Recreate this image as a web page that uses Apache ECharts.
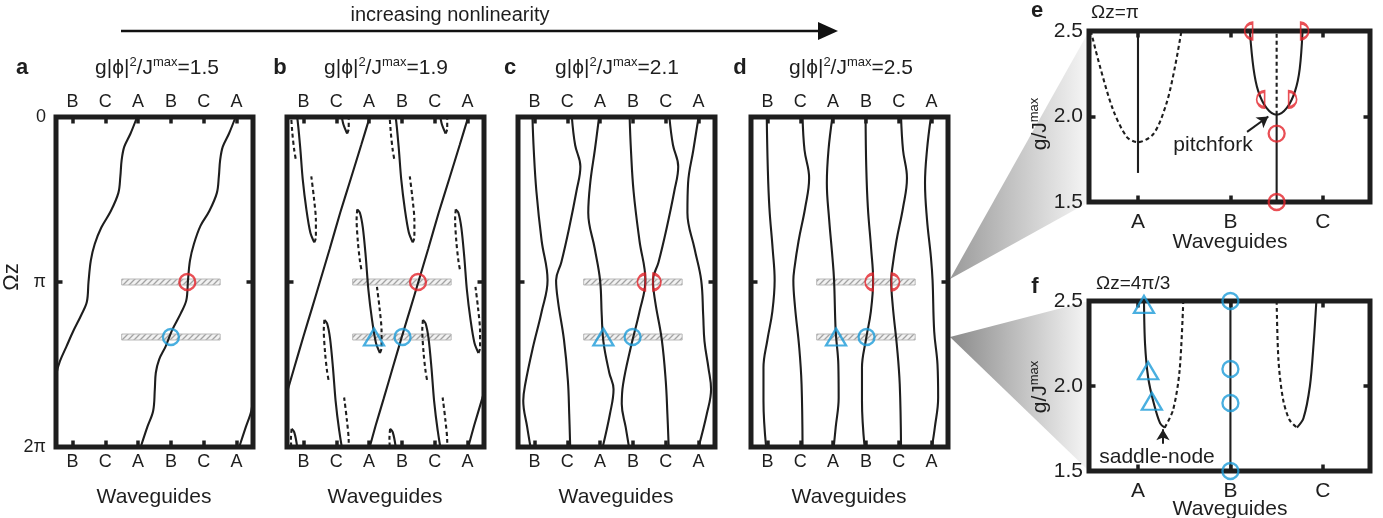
<!DOCTYPE html>
<html>
<head>
<meta charset="utf-8">
<script src="https://cdn.jsdelivr.net/npm/echarts@6.0.0/dist/echarts.min.js"></script>
<style>html,body{margin:0;padding:0;background:#fff;}#chart{width:1383px;height:518px;}</style>
</head>
<body>
<div id="chart"></div>
<script>
// ---------------- data (x = waveguide index, y = Ωz in units of π) ----------------
const wgLabels = ['B', 'C', 'A', 'B', 'C', 'A'];
const wgTicks = [0, 1, 2, 3, 4, 5];
const zTickLabels = ['0', 'π', '2π'];
const zTicks = [0, 1, 2];
const efLabels = ['A', 'B', 'C'];
const efTicks = [0, 1, 2];
const gTicks = [1.5, 2.0, 2.5];
const titleValues = ['1.5', '1.9', '2.1', '2.5'];
const panelLetters = ['a', 'b', 'c', 'd', 'e', 'f'];
const bandRows = [1, 4 / 3];
const bandFrom = 1.5, bandTo = 4.5;

// panel a
const aCurve1 = [[1.97,0],[1.77,0.10],[1.58,0.18],[1.50,0.26],[1.46,0.36],[1.40,0.46],[1.17,0.57],[0.88,0.67],[0.68,0.77],[0.56,0.87],[0.49,1.00],[0.44,1.12],[0.27,1.20],[0.02,1.30],[-0.18,1.39],[-0.38,1.48],[-0.48,1.55],[-0.52,1.65]];
const aCurve2 = [[4.97,0],[4.77,0.10],[4.58,0.18],[4.50,0.26],[4.46,0.36],[4.40,0.46],[4.17,0.57],[3.90,0.66],[3.70,0.77],[3.58,0.87],[3.52,0.99],[3.47,1.11],[3.30,1.19],[3.04,1.29],[2.84,1.39],[2.64,1.47],[2.54,1.55],[2.51,1.65],[2.46,1.78],[2.28,1.88],[2.08,2.0]];
const aCurve3 = [[5.56,1.50],[5.52,1.60],[5.49,1.70],[5.45,1.78],[5.28,1.88],[5.08,2.0]];
const aRed = [[3.5, 1.0]];
const aBlueCircle = [[3.0, 4 / 3]];

// panel b
const bMain = [[5.02,0],[4.76,0.17],[4.45,0.37],[4.12,0.58],[3.80,0.80],[3.50,1.00],[3.26,1.16],[3.00,1.33],[2.72,1.52],[2.44,1.71],[2.20,1.87],[2.02,2.0]];
const bLeft = [[2.02,0],[1.76,0.17],[1.45,0.37],[1.12,0.58],[0.80,0.80],[0.50,1.00],[0.26,1.16],[0.00,1.33],[-0.28,1.52],[-0.56,1.71]];
const bRight = [[5.72,1.52],[5.44,1.71],[5.20,1.87],[5.02,2.0]];
const bHookSolid = [
  [[0.98,-0.28],[1.09,-0.10],[1.21,0.04],[1.33,0.10]],
  [[3.98,-0.28],[4.09,-0.10],[4.21,0.04],[4.33,0.10]],
  [[-0.36,-0.11],[-0.28,-0.09],[-0.19,0.00],[-0.10,0.18],[-0.02,0.38],[0.09,0.56],[0.21,0.70],[0.33,0.76]],
  [[2.64,-0.11],[2.72,-0.09],[2.81,0.00],[2.90,0.18],[2.98,0.38],[3.09,0.56],[3.21,0.70],[3.33,0.76]],
  [[1.64,0.56],[1.72,0.58],[1.81,0.67],[1.90,0.85],[1.98,1.05],[2.09,1.23],[2.21,1.37],[2.33,1.43]],
  [[4.64,0.56],[4.72,0.58],[4.81,0.67],[4.90,0.85],[4.98,1.05],[5.09,1.23],[5.21,1.37],[5.33,1.43]],
  [[0.64,1.23],[0.72,1.25],[0.81,1.34],[0.90,1.52],[0.98,1.72],[1.09,1.90],[1.21,2.04],[1.33,2.10]],
  [[3.64,1.23],[3.72,1.25],[3.81,1.34],[3.90,1.52],[3.98,1.72],[4.09,1.90],[4.21,2.04],[4.33,2.10]],
  [[-0.36,1.89],[-0.28,1.91],[-0.19,2.00],[-0.10,2.18]],
  [[2.64,1.89],[2.72,1.91],[2.81,2.00],[2.90,2.18]]
];
const bHookDashed = [
  [[1.33,0.10],[1.38,0.07],[1.38,-0.03]],
  [[4.33,0.10],[4.38,0.07],[4.38,-0.03]],
  [[-0.36,-0.11],[-0.38,-0.05],[-0.34,0.09],[-0.28,0.20],[-0.22,0.27]],
  [[0.33,0.76],[0.38,0.73],[0.38,0.63],[0.32,0.49],[0.24,0.36]],
  [[2.64,-0.11],[2.62,-0.05],[2.66,0.09],[2.72,0.20],[2.78,0.27]],
  [[3.33,0.76],[3.38,0.73],[3.38,0.63],[3.32,0.49],[3.24,0.36]],
  [[1.64,0.56],[1.62,0.62],[1.66,0.76],[1.72,0.87],[1.78,0.94]],
  [[2.33,1.43],[2.38,1.40],[2.38,1.30],[2.32,1.16],[2.24,1.03]],
  [[4.64,0.56],[4.62,0.62],[4.66,0.76],[4.72,0.87],[4.78,0.94]],
  [[5.33,1.43],[5.38,1.40],[5.38,1.30],[5.32,1.16],[5.24,1.03]],
  [[0.64,1.23],[0.62,1.29],[0.66,1.43],[0.72,1.54],[0.78,1.61]],
  [[1.33,2.10],[1.38,2.07],[1.38,1.97],[1.32,1.83],[1.24,1.70]],
  [[3.64,1.23],[3.62,1.29],[3.66,1.43],[3.72,1.54],[3.78,1.61]],
  [[4.33,2.10],[4.38,2.07],[4.38,1.97],[4.32,1.83],[4.24,1.70]],
  [[-0.36,1.89],[-0.38,1.95],[-0.34,2.09]],
  [[2.64,1.89],[2.62,1.95],[2.66,2.09]]
];
const bRed = [[3.49, 1.0]];
const bBlueTriangle = [[2.15, 4 / 3]];
const bBlueCircle = [[3.02, 4 / 3]];

// panel c
const cCurves = [
  [[-0.06,0],[-0.02,0.20],[0.06,0.45],[0.22,0.75],[0.40,0.99],[0.22,1.18],[-0.05,1.40],[-0.28,1.62],[-0.34,1.72],[-0.22,1.88],[-0.12,2.0]],
  [[1.14,0],[1.24,0.17],[1.40,0.30],[1.28,0.45],[1.05,0.68],[0.82,0.88],[0.66,0.99],[0.72,1.12],[0.90,1.35],[1.02,1.60],[1.06,1.80],[1.09,2.0]],
  [[1.97,0],[1.84,0.20],[1.70,0.40],[1.64,0.58],[1.84,0.80],[2.00,0.99],[2.05,1.20],[2.10,1.36],[2.28,1.55],[2.41,1.65],[2.30,1.80],[2.08,2.0]],
  [[2.90,0],[2.94,0.20],[3.02,0.45],[3.20,0.75],[3.38,0.99],[3.20,1.18],[2.93,1.40],[2.70,1.62],[2.66,1.74],[2.78,1.88],[2.88,2.0]],
  [[4.11,0],[4.22,0.17],[4.38,0.30],[4.26,0.45],[4.02,0.68],[3.78,0.88],[3.61,0.99],[3.68,1.12],[3.88,1.35],[4.00,1.60],[4.05,1.80],[4.09,2.0]],
  [[5.00,0],[4.84,0.20],[4.68,0.40],[4.66,0.58],[4.88,0.80],[5.08,0.99],[5.14,1.20],[5.18,1.36],[5.30,1.52],[5.38,1.65],[5.25,1.80],[5.00,2.0]]
];
const cRedLeft = [[3.38, 1.0]];
const cRedRight = [[3.61, 1.0]];
const cBlueTriangle = [[2.10, 4 / 3]];
const cBlueCircle = [[2.99, 4 / 3]];

// panel d
const dCurves = [
  [[-0.02,0],[0.01,0.30],[0.06,0.55],[0.16,0.80],[0.22,0.99],[0.15,1.18],[0.00,1.35],[-0.12,1.52],[-0.12,1.72],[-0.04,2.0]],
  [[1.07,0],[1.13,0.20],[1.27,0.37],[1.15,0.55],[0.95,0.75],[0.82,0.92],[0.79,0.99],[0.84,1.15],[0.97,1.40],[1.04,1.62],[1.07,2.0]],
  [[1.98,0],[1.86,0.20],[1.81,0.40],[1.88,0.62],[1.98,0.85],[2.03,0.99],[2.08,1.30],[2.16,1.50],[2.17,1.70],[2.08,1.88],[2.02,2.0]],
  [[2.99,0],[3.01,0.30],[3.06,0.55],[3.16,0.80],[3.22,0.99],[3.15,1.18],[3.00,1.35],[2.88,1.52],[2.88,1.72],[2.96,2.0]],
  [[4.07,0],[4.13,0.20],[4.25,0.37],[4.13,0.55],[3.93,0.75],[3.80,0.92],[3.77,0.99],[3.82,1.15],[3.95,1.40],[4.03,1.62],[4.07,2.0]],
  [[4.98,0],[4.86,0.20],[4.80,0.40],[4.86,0.62],[4.98,0.85],[5.03,0.99],[5.08,1.30],[5.18,1.50],[5.20,1.70],[5.10,1.88],[5.01,2.0]]
];
const dRedLeft = [[3.22, 1.0]];
const dRedRight = [[3.78, 1.0]];
const dBlueTriangle = [[2.09, 4 / 3]];
const dBlueCircle = [[3.02, 4 / 3]];

// panel e (x: A=0, B=1, C=2 ; y: g/Jmax)
const eADashed = [[-0.51,2.5],[-0.41,2.29],[-0.27,2.04],[-0.12,1.88],[0,1.85],[0.17,1.90],[0.31,2.08],[0.40,2.29],[0.47,2.5]];
const eASolid = [[0,2.5],[0,1.67]];
const eStem = [[1.5,1.5],[1.5,2.01]];
const eFork = [[1.21,2.5],[1.25,2.28],[1.30,2.15],[1.39,2.05],[1.5,2.01],[1.61,2.05],[1.70,2.15],[1.75,2.28],[1.78,2.5]];
const eForkDashed = [[1.5,2.01],[1.5,2.5]];
const eRedCircles = [[1.5,1.5],[1.5,1.9]];
const eRedLeft = [[1.37,2.1],[1.24,2.5]];
const eRedRight = [[1.63,2.1],[1.76,2.5]];
const pitchforkArrow = [[1.18,1.91],[1.41,2.0]];

// panel f
const fASolid = [[0.065,2.5],[0.076,2.25],[0.11,2.05],[0.17,1.90],[0.24,1.78],[0.29,1.755]];
const fADashed = [[0.29,1.755],[0.38,1.86],[0.45,2.09],[0.49,2.5]];
const fBSolid = [[1,1.5],[1,2.5]];
const fCDashed = [[1.50,2.5],[1.52,2.15],[1.57,1.92],[1.64,1.80],[1.72,1.755]];
const fCSolid = [[1.72,1.755],[1.79,1.81],[1.86,2.0],[1.90,2.25],[1.93,2.5]];
const fTriangles = [[0.065,2.48],[0.11,2.09],[0.15,1.91]];
const fCircles = [[1,2.5],[1,2.1],[1,1.9],[1,1.5]];
const saddleArrow = [[0.27,1.66],[0.27,1.745]];

// ---------------- styling / layout ----------------
const FONT = '"Liberation Sans", Arial, Helvetica, sans-serif';
const INK = '#1e1e1e';
const RED = '#e3232a';
const BLUE = '#1b9bd8';
const LEFT_HALF = 'path://M10,0 A10,10 0 0 0 10,20 Z';
const RIGHT_HALF = 'path://M0,0 A10,10 0 0 1 0,20 Z';

const hatchCanvas = document.createElement('canvas');
hatchCanvas.width = 6; hatchCanvas.height = 6;
(function () {
  const c = hatchCanvas.getContext('2d');
  c.fillStyle = '#f1f1f1'; c.fillRect(0, 0, 6, 6);
  c.strokeStyle = '#a3a3a3'; c.lineWidth = 1.3;
  c.beginPath();
  c.moveTo(-1, 7); c.lineTo(7, -1);
  c.moveTo(-4, 4); c.lineTo(4, -4);
  c.moveTo(2, 10); c.lineTo(10, 2);
  c.stroke();
})();
const hatch = { image: hatchCanvas, repeat: 'repeat' };

const grids = [], xAxes = [], yAxes = [], series = [];
const tickStyle = { show: true, inside: true, length: 6.5, lineStyle: { color: INK, width: 3.5 } };

function addGrid(box) {
  grids.push(Object.assign({ show: true, borderColor: INK, borderWidth: 5, backgroundColor: 'rgba(0,0,0,0)' }, box));
  return grids.length - 1;
}
function addAxes(g, xr, yr, xT, xL, xLabShow, yT, yL, yLabShow, yInverse, xMargin, yMargin, fs) {
  ['bottom', 'top'].forEach((pos, k) => {
    xAxes.push({
      gridIndex: g, type: 'value', min: xr[0], max: xr[1], position: pos,
      axisLine: { show: false, onZero: false }, splitLine: { show: false },
      axisTick: Object.assign({ customValues: xT }, tickStyle),
      axisLabel: { show: xLabShow[k], customValues: xT, formatter: v => xL[Math.round(v - xT[0])],
        fontSize: fs, color: INK, fontFamily: FONT, margin: xMargin }
    });
  });
  ['left', 'right'].forEach((pos, k) => {
    yAxes.push({
      gridIndex: g, type: 'value', min: yr[0], max: yr[1], position: pos, inverse: yInverse,
      axisLine: { show: false, onZero: false }, splitLine: { show: false },
      axisTick: Object.assign({ customValues: yT }, tickStyle),
      axisLabel: { show: yLabShow && k === 0, customValues: yT, formatter: yL,
        fontSize: fs, color: INK, fontFamily: FONT, margin: yMargin }
    });
  });
}
function line(g, data, dashed, smooth) {
  series.push({
    type: 'line', xAxisIndex: 2 * g, yAxisIndex: 2 * g, data, symbol: 'none', showSymbol: false,
    smooth: smooth === undefined ? 0.35 : smooth, silent: true, z: 3,
    lineStyle: { color: INK, width: 2.1, type: dashed ? [4, 3] : 'solid' }
  });
  return series[series.length - 1];
}
function marks(g, data, kind, color) {
  const s = { type: 'scatter', xAxisIndex: 2 * g, yAxisIndex: 2 * g, data, silent: true, z: 6, clip: false,
    itemStyle: { color: 'rgba(0,0,0,0)', borderColor: color, borderWidth: 2.3 } };
  if (kind === 'circle') { s.symbol = 'circle'; s.symbolSize = 16; }
  if (kind === 'triangle') { s.symbol = 'triangle'; s.symbolSize = [20, 17]; }
  if (kind === 'left') { s.symbol = LEFT_HALF; s.symbolSize = [8, 16]; s.symbolOffset = [-4, 0]; }
  if (kind === 'right') { s.symbol = RIGHT_HALF; s.symbolSize = [8, 16]; s.symbolOffset = [4, 0]; }
  series.push(s);
}
function bands(g) {
  series.push({
    type: 'custom', xAxisIndex: 2 * g, yAxisIndex: 2 * g, silent: true, z: 2,
    data: bandRows.map(r => [bandFrom, bandTo, r]),
    renderItem: (params, api) => {
      const p1 = api.coord([api.value(0), api.value(2)]);
      const p2 = api.coord([api.value(1), api.value(2)]);
      return { type: 'rect', shape: { x: p1[0], y: p1[1] - 3, width: p2[0] - p1[0], height: 6 },
        style: { fill: hatch, stroke: '#b9b9b9', lineWidth: 1 } };
    }
  });
}

// panels a-d
const adLefts = [56, 287, 518, 751];
adLefts.forEach((l, i) => {
  const g = addGrid({ left: l, top: 117, width: 197, height: 330 });
  addAxes(g, [-0.5, 5.5], [0, 2], wgTicks, wgLabels, [true, true], zTicks,
    v => zTickLabels[Math.round(v)], i === 0, true, 6, 10, 18);
  bands(g);
});
[aCurve1, aCurve2, aCurve3].forEach(c => line(0, c, false));
marks(0, aRed, 'circle', RED);
marks(0, aBlueCircle, 'circle', BLUE);

[bMain, bLeft, bRight].forEach(c => line(1, c, false, 0.2));
bHookSolid.forEach(c => line(1, c, false, 0.3));
bHookDashed.forEach(c => line(1, c, true, 0.3));
marks(1, bRed, 'circle', RED);
marks(1, bBlueTriangle, 'triangle', BLUE);
marks(1, bBlueCircle, 'circle', BLUE);

cCurves.forEach(c => line(2, c, false, 0.4));
marks(2, cRedLeft, 'left', RED);
marks(2, cRedRight, 'right', RED);
marks(2, cBlueTriangle, 'triangle', BLUE);
marks(2, cBlueCircle, 'circle', BLUE);

dCurves.forEach(c => line(3, c, false, 0.4));
marks(3, dRedLeft, 'left', RED);
marks(3, dRedRight, 'right', RED);
marks(3, dBlueTriangle, 'triangle', BLUE);
marks(3, dBlueCircle, 'circle', BLUE);

// panels e, f
const arrowMark = (pts) => ({
  silent: true, symbol: ['none', 'arrow'], symbolSize: [10, 11], label: { show: false },
  lineStyle: { color: INK, width: 2, type: 'solid' },
  data: [[{ coord: pts[0] }, { coord: pts[1] }]]
});
[{ top: 31, height: 171 }, { top: 301, height: 170 }].forEach((b, k) => {
  const g = addGrid({ left: 1089, top: b.top, width: 281, height: b.height });
  addAxes(g, [-0.53, 2.51], [1.5, 2.5], efTicks, efLabels, [true, false], gTicks,
    v => v.toFixed(1), true, false, 10, 6, 21);
});
line(4, eADashed, true, 0.3);
line(4, eASolid, false, false);
line(4, eStem, false, false).markLine = arrowMark(pitchforkArrow);
line(4, eFork, false, 0.35);
line(4, eForkDashed, true, false);
marks(4, eRedCircles, 'circle', RED);
marks(4, eRedLeft, 'left', RED);
marks(4, eRedRight, 'right', RED);

line(5, fASolid, false, 0.3);
line(5, fADashed, true, 0.3);
line(5, fBSolid, false, false).markLine = arrowMark(saddleArrow);
line(5, fCDashed, true, 0.3);
line(5, fCSolid, false, 0.3);
marks(5, fTriangles, 'triangle', BLUE);
marks(5, fCircles, 'circle', BLUE);

// ---------------- annotations ----------------
const supRich = {
  m: { fontSize: 21, lineHeight: 24, fontFamily: FONT, fill: INK },
  s: { fontSize: 13, lineHeight: 13, fontFamily: FONT, fill: INK, verticalAlign: 'top' }
};
function txt(x, y, text, o) {
  o = o || {};
  return { type: 'text', x, y, rotation: o.rot || 0, z: 100, silent: true,
    style: { text, fill: INK, font: (o.bold ? 'bold ' : '') + (o.size || 21) + 'px ' + FONT,
      align: o.align || 'center', verticalAlign: 'middle', rich: o.rich } };
}
const graphics = [];
const wedge = (pts, c0) => ({ type: 'polygon', z: -1, silent: true, shape: { points: pts },
  style: { fill: new echarts.graphic.LinearGradient(0, 0, 1, 0, [{ offset: 0, color: c0 }, { offset: 1, color: '#f6f6f6' }]) } });
graphics.push(wedge([[950, 279], [1089, 31], [1089, 202]], '#9a9a9a'));
graphics.push(wedge([[950, 337], [1089, 301], [1089, 471]], '#8a8a8a'));
graphics.push({ type: 'line', z: 100, silent: true, shape: { x1: 121, y1: 31, x2: 822, y2: 31 }, style: { stroke: '#111', lineWidth: 2.5 } });
graphics.push({ type: 'polygon', z: 100, silent: true, shape: { points: [[818, 22], [838, 31], [818, 40]] }, style: { fill: '#111' } });
graphics.push(txt(450, 15, 'increasing nonlinearity', { size: 20 }));

const letterPos = [[22, 68], [280, 68], [510, 68], [740, 68], [1037, 11], [1035, 287]];
panelLetters.forEach((L, i) => graphics.push(txt(letterPos[i][0], letterPos[i][1], L, { bold: true, size: 22 })));
const titleX = [157, 386, 617, 851];
titleValues.forEach((v, i) => graphics.push(txt(titleX[i], 68, '{m|g|ϕ|}{s|2}{m|/J}{s|max}{m|=' + v + '}', { rich: supRich })));
[154, 385, 616, 849].forEach(x => graphics.push(txt(x, 497, 'Waveguides')));
graphics.push(txt(1230, 242, 'Waveguides'));
graphics.push(txt(1230, 509, 'Waveguides'));
graphics.push(txt(12, 277, 'Ωz', { rot: Math.PI / 2, size: 22 }));
graphics.push(txt(1040, 124, '{m|g/J}{s|max}', { rot: Math.PI / 2, rich: supRich }));
graphics.push(txt(1040, 387, '{m|g/J}{s|max}', { rot: Math.PI / 2, rich: supRich }));
graphics.push(txt(1091, 13, 'Ωz=π', { size: 19, align: 'left' }));
graphics.push(txt(1096, 284, 'Ωz=4π/3', { size: 19, align: 'left' }));
graphics.push(txt(1213, 145, 'pitchfork'));
graphics.push(txt(1157, 457, 'saddle-node'));

const chart = echarts.init(document.getElementById('chart'), null, { renderer: 'canvas' });
chart.setOption({
  animation: false,
  backgroundColor: '#ffffff',
  textStyle: { fontFamily: FONT },
  grid: grids, xAxis: xAxes, yAxis: yAxes, series, graphic: graphics
});
</script>
</body>
</html>
